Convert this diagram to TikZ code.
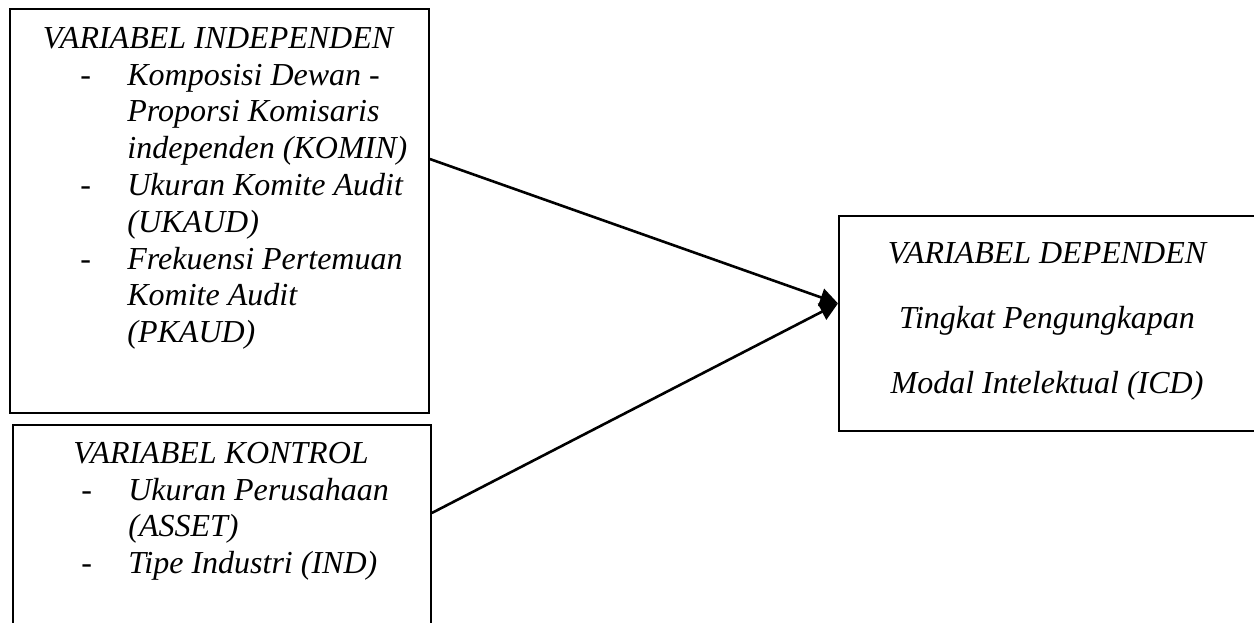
\documentclass[tikz,border=0pt]{standalone}
\usepackage{fontspec}
\setmainfont{Liberation Serif}
\usetikzlibrary{arrows.meta, positioning}

\tikzset{
  varbox/.style={draw, line width=0.9pt, inner sep=0pt, anchor=north west},
  vartext/.style={font=\fontsize{16}{18.4}\selectfont\itshape, inner sep=0pt},
  link/.style={line width=1.3pt, -{Triangle[length=9pt,width=9pt]}}
}

\begin{document}
\begin{tikzpicture}[x=0.5pt,y=-0.5pt]
        \useasboundingbox (0,0) rectangle (1254,622);
        \clip (0,0) rectangle (1254,622);
        \node[varbox, minimum width=209.5pt, minimum height=202pt] (indep) at (9,8) {};
        \node[varbox, minimum width=209pt, minimum height=120pt] (kontrol) at (12,424) {};
        \node[varbox, minimum width=209pt, minimum height=107.5pt] (dep) at (838,215) {};
        \node[vartext, anchor=base] (indephead) at (218,48) {VARIABEL INDEPENDEN};
        \node[vartext, anchor=base west] (indeplist) at (80,85) {%
          \begin{tabular}[t]{@{}p{23.5pt}@{}l@{}}
            - & Komposisi Dewan - \\
              & Proporsi Komisaris \\
              & independen (KOMIN) \\
            - & Ukuran Komite Audit \\
              & (UKAUD) \\
            - & Frekuensi Pertemuan \\
              & Komite Audit \\
              & (PKAUD)
          \end{tabular}};
        \node[vartext, anchor=base] (kontrolhead) at (221,463) {VARIABEL KONTROL};
        \node[vartext, anchor=base west] (kontrollist) at (81,500) {%
          \begin{tabular}[t]{@{}p{23.5pt}@{}l@{}}
            - & Ukuran Perusahaan \\
              & (ASSET) \\
            - & Tipe Industri (IND)
          \end{tabular}};
        \node[vartext, anchor=base] (dephead) at (1047,263) {VARIABEL DEPENDEN};
        \node[vartext, anchor=base] (deptop) at (1047,328) {Tingkat Pengungkapan};
        \node[vartext, anchor=base] (depbot) at (1047,393) {Modal Intelektual (ICD)};
        \draw[link] ([yshift=-75.5pt]indep.north east) -- ([yshift=10pt]dep.west);
        \draw[link] ([yshift=-44.5pt]kontrol.north east) -- ([yshift=10pt]dep.west);
      \end{tikzpicture}
\end{document}
